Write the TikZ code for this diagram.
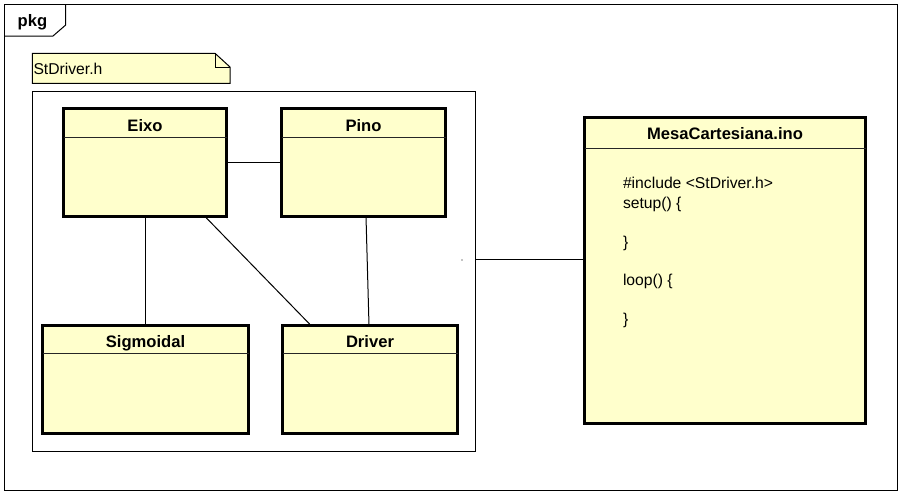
\documentclass[tikz,border=0pt]{standalone}
\usepackage{fontspec}
\setmainfont{Liberation Sans}
\definecolor{umlyellow}{RGB}{255,255,204}
\begin{document}
\begin{tikzpicture}[x=1pt,y=-1pt,
  every node/.style={inner sep=0pt, outer sep=0pt},
  classbox/.style={draw=black, line width=3pt, fill=umlyellow, rectangle},
  ctitle/.style={font=\bfseries\fontsize{16.6}{19}\selectfont, anchor=base},
  codeline/.style={font=\fontsize{15.7}{19}\selectfont, anchor=base west},
  thinline/.style={draw=black, line width=1pt},
  divider/.style={draw=black!85, line width=0.9pt},
  conn/.style={draw=black, line width=1pt}]
\useasboundingbox (0,0) rectangle (907,498);
% outer package frame
\node[thinline, fill=white, rectangle, minimum width=893pt, minimum height=486pt, anchor=north west] (frame) at (4.5,4.5) {};
\draw[thinline] (frame.north west) ++(61.2,0) coordinate (tabA) -- ++(0,20.5) coordinate (tabB) -- (53,36) coordinate (tabC) -- (4.5,36) coordinate (tabD);
\node[font=\bfseries\fontsize{16.6}{19}\selectfont, anchor=base] (pkg) at (32.5,26.5) {pkg};
% note
\coordinate (n1) at (32.3,53.3);
\coordinate (n2) at (215,53.3);
\coordinate (n3) at (230,67);
\coordinate (n4) at (230,83.3);
\coordinate (n5) at (32.3,83.3);
\draw[thinline, fill=umlyellow] (n1) -- (n2) -- (n3) -- (n4) -- (n5) -- cycle;
\draw[thinline] (n2) -- (n2 |- n3) -- (n3);
\node[codeline] (note) at (33.5,74) {StDriver.h};
% inner container
\node[thinline, fill=white, rectangle, minimum width=443pt, minimum height=360pt, anchor=north west] (inner) at (32,91) {};
% classes
\node[classbox, minimum width=163pt, minimum height=108pt, anchor=north west] (eixo) at (63.5,108.5) {};
\draw[divider] ([yshift=-29pt]eixo.north west) -- ([yshift=-29pt]eixo.north east);
\node[ctitle] (eixot) at ([yshift=-22.5pt]eixo.north) {Eixo};

\node[classbox, minimum width=164pt, minimum height=108pt, anchor=north west] (pino) at (281.5,108.5) {};
\draw[divider] ([yshift=-29pt]pino.north west) -- ([yshift=-29pt]pino.north east);
\node[ctitle] (pinot) at ([yshift=-22.5pt]pino.north) {Pino};

\node[classbox, minimum width=206pt, minimum height=108pt, anchor=north west] (sig) at (42.5,325.5) {};
\draw[divider] ([yshift=-28pt]sig.north west) -- ([yshift=-28pt]sig.north east);
\node[ctitle] (sigt) at ([yshift=-22pt]sig.north) {Sigmoidal};

\node[classbox, minimum width=175pt, minimum height=108pt, anchor=north west] (driver) at (282.5,325.5) {};
\draw[divider] ([yshift=-28pt]driver.north west) -- ([yshift=-28pt]driver.north east);
\node[ctitle] (drivert) at ([yshift=-22pt]driver.north) {Driver};

\node[classbox, minimum width=281pt, minimum height=306pt, anchor=north west] (mesa) at (584.5,117.5) {};
\draw[divider] ([yshift=-31pt]mesa.north west) -- ([yshift=-31pt]mesa.north east);
\node[ctitle] (mesat) at ([yshift=-21.5pt]mesa.north) {MesaCartesiana.ino};
\node[codeline] (l1) at (623,188.8) {\#include <StDriver.h>};
\node[codeline] (l2) at (623,208.2) {setup() \{};
\node[codeline] (l3) at (623,247) {\}};
\node[codeline] (l4) at (623,285.8) {loop() \{};
\node[codeline] (l5) at (623,324.6) {\}};
% connectors
\draw[conn] (eixo.east) -- (pino.west);
\draw[conn] (eixo.south) -- (eixo.south |- sig.north);
\draw[conn] ([xshift=60pt]eixo.south) -- ([xshift=-59pt]driver.north);
\draw[conn] ([xshift=2.5pt]pino.south) -- ([xshift=-1pt]driver.north);
\draw[conn] ([yshift=12pt]inner.east) -- ([yshift=12pt]inner.east -| mesa.west);
% small dot
\fill[black] (462,260) circle (0.6pt);
\end{tikzpicture}
\end{document}
